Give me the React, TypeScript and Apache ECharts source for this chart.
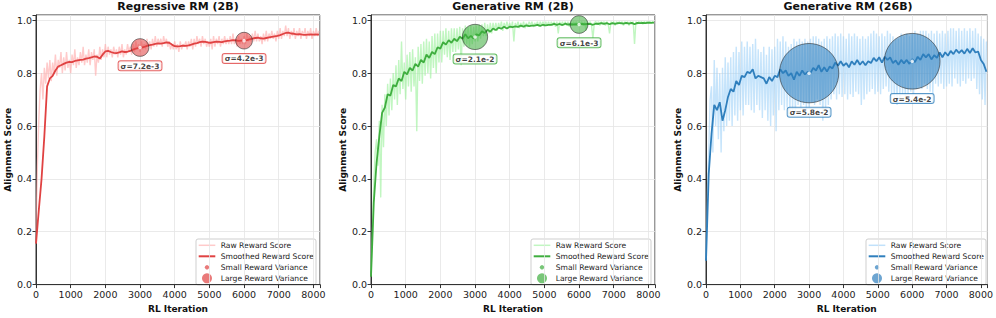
import React, { useEffect, useRef } from "react";
import * as echarts from "echarts";

// ---------------- data ----------------
const RAW_STEP = 40; // iterations between raw samples
const SMOOTH_STEP = 80; // iterations between smoothed samples
const TITLES = ["Regressive RM (2B)", "Generative RM (2B)", "Generative RM (26B)"];
const X_TICKS = [0, 1000, 2000, 3000, 4000, 5000, 6000, 7000, 8000];
const Y_TICKS = [0, 0.2, 0.4, 0.6, 0.8, 1.0];
const LEGEND_NAMES = ["Raw Reward Score", "Smoothed Reward Score", "Small Reward Variance", "Large Reward Variance"];

const REG_SMOOTH = [
  0.155, 0.28, 0.40, 0.56, 0.75, 0.78, 0.79, 0.81, 0.825, 0.83,
  0.835, 0.84, 0.843, 0.842, 0.846, 0.848, 0.85, 0.851, 0.855, 0.857,
  0.86, 0.863, 0.862, 0.855, 0.87, 0.882, 0.884, 0.88, 0.877, 0.876,
  0.879, 0.882, 0.88, 0.881, 0.884, 0.889, 0.893, 0.896, 0.897, 0.899,
  0.903, 0.906, 0.908, 0.911, 0.913, 0.912, 0.914, 0.916, 0.915, 0.908,
  0.902, 0.901, 0.902, 0.904, 0.903, 0.905, 0.908, 0.912, 0.914, 0.917,
  0.919, 0.918, 0.916, 0.915, 0.917, 0.919, 0.918, 0.917, 0.92, 0.922,
  0.923, 0.925, 0.924, 0.922, 0.923, 0.923, 0.925, 0.928, 0.931, 0.933,
  0.934, 0.932, 0.931, 0.933, 0.935, 0.937, 0.939, 0.941, 0.944, 0.948,
  0.952, 0.953, 0.95, 0.949, 0.947, 0.948, 0.946, 0.945, 0.946, 0.947,
  0.946, 0.947, 0.946,
];
const REG_RAW = [
  0.2, 0.45, 0.62, 0.74, 0.8, 0.7, 0.82, 0.76, 0.84, 0.78,
  0.85, 0.77, 0.84, 0.8, 0.87, 0.79, 0.85, 0.82, 0.88, 0.8,
  0.86, 0.81, 0.88, 0.82, 0.85, 0.8, 0.87, 0.83, 0.89, 0.82,
  0.86, 0.83, 0.88, 0.84, 0.9, 0.83, 0.87, 0.84, 0.89, 0.83,
  0.88, 0.85, 0.89, 0.79, 0.87, 0.84, 0.9, 0.85, 0.89, 0.86,
  0.91, 0.86, 0.9, 0.87, 0.89, 0.86, 0.9, 0.87, 0.89, 0.86,
  0.9, 0.87, 0.91, 0.86, 0.89, 0.87, 0.91, 0.88, 0.9, 0.87,
  0.91, 0.88, 0.92, 0.89, 0.91, 0.88, 0.92, 0.89, 0.91, 0.89,
  0.93, 0.9, 0.92, 0.89, 0.93, 0.9, 0.94, 0.9, 0.93, 0.91,
  0.93, 0.9, 0.94, 0.91, 0.93, 0.9, 0.92, 0.89, 0.91, 0.89,
  0.92, 0.89, 0.91, 0.88, 0.92, 0.89, 0.91, 0.9, 0.92, 0.89,
  0.92, 0.9, 0.93, 0.89, 0.93, 0.9, 0.94, 0.91, 0.93, 0.9,
  0.94, 0.91, 0.93, 0.9, 0.92, 0.9, 0.93, 0.89, 0.94, 0.9,
  0.93, 0.91, 0.94, 0.9, 0.93, 0.91, 0.94, 0.91, 0.93, 0.91,
  0.94, 0.91, 0.95, 0.91, 0.93, 0.9, 0.94, 0.91, 0.93, 0.91,
  0.94, 0.91, 0.95, 0.92, 0.94, 0.92, 0.95, 0.92, 0.96, 0.92,
  0.95, 0.92, 0.94, 0.91, 0.95, 0.92, 0.96, 0.92, 0.95, 0.93,
  0.96, 0.93, 0.95, 0.92, 0.96, 0.93, 0.97, 0.93, 0.96, 0.94,
  0.98, 0.94, 0.97, 0.93, 0.96, 0.94, 0.97, 0.93, 0.96, 0.94,
  0.97, 0.93, 0.96, 0.94, 0.97, 0.93, 0.96, 0.94, 0.97, 0.93,
  0.96, 0.94, 0.97, 0.94, 0.96,
];

const GEN2_SMOOTH = [
  0.03, 0.31, 0.46, 0.56, 0.65, 0.67, 0.72, 0.715, 0.755, 0.75,
  0.78, 0.77, 0.805, 0.795, 0.82, 0.81, 0.835, 0.825, 0.85, 0.84,
  0.87, 0.858, 0.88, 0.872, 0.898, 0.893, 0.917, 0.908, 0.925, 0.915,
  0.93, 0.921, 0.938, 0.93, 0.947, 0.932, 0.941, 0.931, 0.947, 0.943,
  0.958, 0.952, 0.964, 0.957, 0.969, 0.963, 0.972, 0.968, 0.976, 0.969,
  0.976, 0.974, 0.977, 0.975, 0.98, 0.976, 0.981, 0.978, 0.98, 0.98,
  0.983, 0.979, 0.983, 0.981, 0.983, 0.983, 0.986, 0.983, 0.986, 0.982,
  0.987, 0.984, 0.985, 0.984, 0.985, 0.984, 0.986, 0.985, 0.986, 0.986,
  0.983, 0.987, 0.986, 0.989, 0.986, 0.989, 0.985, 0.989, 0.986, 0.989,
  0.989, 0.987, 0.99, 0.987, 0.99, 0.985, 0.99, 0.989, 0.99, 0.989,
  0.991, 0.99, 0.991,
];
const GEN2_RAW = [
  0.05, 0.2, 0.38, 0.5, 0.55, 0.45, 0.62, 0.33, 0.68, 0.52,
  0.72, 0.6, 0.76, 0.64, 0.78, 0.66, 0.8, 0.7, 0.83, 0.68,
  0.85, 0.72, 0.92, 0.74, 0.84, 0.7, 0.87, 0.75, 0.88, 0.73,
  0.89, 0.75, 0.86, 0.58, 0.9, 0.77, 0.91, 0.76, 0.92, 0.79,
  0.93, 0.8, 0.92, 0.78, 0.94, 0.82, 0.95, 0.8, 0.95, 0.84,
  0.96, 0.84, 0.96, 0.87, 0.97, 0.86, 0.96, 0.85, 0.97, 0.88,
  0.97, 0.88, 0.97, 0.89, 0.975, 0.83, 0.97, 0.9, 0.98, 0.91,
  0.975, 0.9, 0.98, 0.91, 0.975, 0.92, 0.98, 0.92, 0.985, 0.93,
  0.985, 0.94, 0.99, 0.94, 0.985, 0.95, 0.99, 0.95, 0.99, 0.96,
  0.99, 0.96, 0.99, 0.97, 0.995, 0.96, 0.99, 0.97, 0.995, 0.97,
  0.99, 0.97, 0.995, 0.92, 0.99, 0.975, 0.995, 0.97, 0.99, 0.975,
  0.995, 0.97, 0.99, 0.975, 0.995, 0.98, 0.995, 0.975, 0.99, 0.98,
  0.995, 0.975, 0.995, 0.98, 0.995, 0.975, 0.995, 0.98, 0.995, 0.98,
  0.995, 0.98, 0.995, 0.975, 0.995, 0.95, 0.995, 0.98, 0.995, 0.98,
  0.995, 0.98, 0.995, 0.975, 0.995, 0.98, 0.995, 0.985, 0.995, 0.98,
  0.995, 0.985, 0.995, 0.98, 0.995, 0.96, 0.995, 0.985, 0.995, 0.98,
  0.93, 0.99, 0.995, 0.985, 0.995, 0.98, 0.995, 0.985, 0.995, 0.98,
  0.995, 0.985, 0.95, 0.995, 0.985, 0.995, 0.98, 0.995, 0.985, 0.995,
  0.985, 0.995, 0.98, 0.995, 0.985, 0.995, 0.98, 0.995, 0.985, 0.995,
  0.91, 0.995, 0.985, 0.995, 0.99, 0.995, 0.985, 0.995, 0.99, 0.995,
  0.99, 0.995, 0.99, 0.995, 0.99,
];

const GEN26_SMOOTH = [
  0.09, 0.42, 0.57, 0.68, 0.66, 0.69, 0.62, 0.66, 0.71, 0.74,
  0.73, 0.77, 0.755, 0.79, 0.785, 0.805, 0.80, 0.815, 0.78, 0.79,
  0.785, 0.78, 0.76, 0.785, 0.77, 0.79, 0.785, 0.815, 0.80, 0.81,
  0.79, 0.80, 0.775, 0.805, 0.79, 0.81, 0.795, 0.805, 0.80, 0.82,
  0.81, 0.83, 0.805, 0.822, 0.806, 0.825, 0.818, 0.84, 0.828, 0.845,
  0.828, 0.838, 0.822, 0.845, 0.832, 0.85, 0.832, 0.845, 0.83, 0.845,
  0.838, 0.858, 0.845, 0.86, 0.84, 0.862, 0.85, 0.86, 0.838, 0.848,
  0.832, 0.85, 0.837, 0.85, 0.835, 0.853, 0.842, 0.862, 0.85, 0.872,
  0.86, 0.872, 0.852, 0.868, 0.858, 0.878, 0.86, 0.879, 0.866, 0.884,
  0.872, 0.889, 0.876, 0.887, 0.874, 0.892, 0.876, 0.894, 0.878, 0.882,
  0.85, 0.835, 0.805,
];
const GEN26_RAW = [
  0.1, 0.35, 0.5, 0.7, 0.75, 0.5, 0.85, 0.6, 0.82, 0.55,
  0.8, 0.5, 0.82, 0.58, 0.86, 0.6, 0.84, 0.62, 0.86, 0.6,
  0.88, 0.64, 0.9, 0.62, 0.88, 0.66, 0.92, 0.64, 0.9, 0.68,
  0.92, 0.68, 0.9, 0.66, 0.91, 0.65, 0.93, 0.68, 0.89, 0.66,
  0.88, 0.63, 0.9, 0.66, 0.87, 0.62, 0.9, 0.6, 0.89, 0.64,
  0.9, 0.58, 0.93, 0.66, 0.92, 0.68, 0.94, 0.66, 0.92, 0.67,
  0.9, 0.64, 0.91, 0.66, 0.93, 0.65, 0.92, 0.68, 0.93, 0.67,
  0.92, 0.68, 0.93, 0.66, 0.92, 0.67, 0.93, 0.69, 0.94, 0.68,
  0.94, 0.7, 0.93, 0.68, 0.92, 0.62, 0.93, 0.66, 0.94, 0.68,
  0.93, 0.7, 0.94, 0.72, 0.95, 0.7, 0.94, 0.72, 0.95, 0.71,
  0.94, 0.72, 0.93, 0.7, 0.95, 0.72, 0.94, 0.71, 0.95, 0.73,
  0.94, 0.72, 0.93, 0.68, 0.94, 0.7, 0.93, 0.72, 0.94, 0.73,
  0.95, 0.74, 0.96, 0.72, 0.95, 0.73, 0.94, 0.72, 0.95, 0.74,
  0.94, 0.75, 0.96, 0.73, 0.95, 0.72, 0.94, 0.7, 0.93, 0.68,
  0.93, 0.7, 0.95, 0.72, 0.94, 0.7, 0.95, 0.72, 0.94, 0.73,
  0.95, 0.72, 0.96, 0.74, 0.95, 0.75, 0.96, 0.74, 0.96, 0.76,
  0.96, 0.74, 0.95, 0.73, 0.96, 0.72, 0.95, 0.76, 0.96, 0.75,
  0.95, 0.76, 0.96, 0.74, 0.95, 0.75, 0.96, 0.76, 0.97, 0.75,
  0.97, 0.78, 0.96, 0.76, 0.97, 0.75, 0.96, 0.77, 0.97, 0.76,
  0.96, 0.78, 0.97, 0.77, 0.96, 0.78, 0.97, 0.74, 0.95, 0.72,
  0.94, 0.7, 0.93, 0.68, 0.92,
];

const MARK_X = [3000, 6000];
const REG_MARK_Y = [0.897, 0.923];
const GEN2_MARK_Y = [0.937, 0.984];
const GEN26_MARK_Y = [0.80, 0.845];
const REG_SIGMA = ["7.2e-3", "4.2e-3"];
const GEN2_SIGMA = ["2.1e-2", "6.1e-3"];
const GEN26_SIGMA = ["5.8e-2", "5.4e-2"];

// ---------------- styles ----------------
const FONT = "DejaVu Sans";
const GRID_LEFT = [36, 371, 706];
const GRID_TOP = 15;
const GRID_W = 284;
const GRID_H = 274;
const X_MAX = 8190;
const Y_MAX = 1.02;

const PANELS = [
  {
    raw: REG_RAW, smooth: REG_SMOOTH, markY: REG_MARK_Y, sigma: REG_SIGMA,
    main: "#e04242", rawColor: "#ffa6a6", rawOpacity: 0.6, fill: "rgba(224,66,66,0.7)", sizes: [17.7, 16.7],
  },
  {
    raw: GEN2_RAW, smooth: GEN2_SMOOTH, markY: GEN2_MARK_Y, sigma: GEN2_SIGMA,
    main: "#3fae3f", rawColor: "#98f098", rawOpacity: 0.6, fill: "rgba(63,174,63,0.7)", sizes: [25.3, 17.7],
  },
  {
    raw: GEN26_RAW, smooth: GEN26_SMOOTH, markY: GEN26_MARK_Y, sigma: GEN26_SIGMA,
    main: "#2f7fbd", rawColor: "#98cdf8", rawOpacity: 0.55, fill: "rgba(47,127,189,0.7)", sizes: [59.3, 55.7],
  },
];

const toPts = (arr: number[], step: number) => arr.map((v, i) => [i * step, v]);

function buildOption() {
  const grids: any[] = [];
  const xAxes: any[] = [];
  const yAxes: any[] = [];
  const series: any[] = [];
  const titles: any[] = [];
  const graphics: any[] = [];

  PANELS.forEach((p, i) => {
    const left = GRID_LEFT[i];
    grids.push({
      left, top: GRID_TOP, width: GRID_W, height: GRID_H,
      show: true, borderColor: "#333", borderWidth: 1, backgroundColor: "transparent",
    });
    titles.push({
      text: TITLES[i], left: left + GRID_W / 2, top: 1, padding: 0, textAlign: "center",
      textStyle: { fontFamily: FONT, fontSize: 11, fontWeight: "bold", color: "#111" },
    });
    xAxes.push({
      type: "value", gridIndex: i, min: 0, max: X_MAX, interval: 1000,
      name: "RL Iteration", nameLocation: "middle", nameGap: 17,
      nameTextStyle: { fontFamily: FONT, fontSize: 9, fontWeight: "bold", color: "#111" },
      axisLine: { show: true, lineStyle: { color: "#333", width: 1 } },
      axisTick: { show: true, length: 3.5, lineStyle: { color: "#333" } },
      axisLabel: {
        fontFamily: FONT, fontSize: 9.5, color: "#222", margin: 4.5,
        formatter: (v: number) => (X_TICKS.includes(v) ? String(v) : ""),
      },
      splitLine: { show: true, lineStyle: { color: "#e4e4e4", width: 0.8 } },
    });
    yAxes.push({
      type: "value", gridIndex: i, min: 0, max: Y_MAX, interval: 0.2,
      name: "Alignment Score", nameLocation: "middle", nameGap: 23,
      nameTextStyle: { fontFamily: FONT, fontSize: 9, fontWeight: "bold", color: "#111" },
      axisLine: { show: true, lineStyle: { color: "#333", width: 1 } },
      axisTick: { show: true, length: 3.5, lineStyle: { color: "#333" } },
      axisLabel: {
        fontFamily: FONT, fontSize: 9.5, color: "#222", margin: 4,
        formatter: (v: number) => (Y_TICKS.some((t) => Math.abs(t - v) < 1e-6) ? v.toFixed(1) : ""),
      },
      splitLine: { show: true, lineStyle: { color: "#e4e4e4", width: 0.8 } },
    });

    series.push({
      type: "line", name: LEGEND_NAMES[0], xAxisIndex: i, yAxisIndex: i,
      data: toPts(p.raw, RAW_STEP), symbol: "none", silent: true, z: 1,
      lineStyle: { color: p.rawColor, width: 1.4, opacity: p.rawOpacity },
    });
    series.push({
      type: "line", name: LEGEND_NAMES[1], xAxisIndex: i, yAxisIndex: i,
      data: toPts(p.smooth, SMOOTH_STEP), symbol: "none", silent: true, z: 2,
      lineStyle: { color: p.main, width: 1.8 },
    });
    series.push({
      type: "scatter", xAxisIndex: i, yAxisIndex: i, z: 3, silent: true,
      data: MARK_X.map((x, k) => ({ value: [x, p.markY[k]], symbolSize: p.sizes[k] })),
      itemStyle: { color: p.fill, borderColor: "rgba(30,30,30,0.85)", borderWidth: 0.8 },
      label: {
        show: true, position: "bottom", distance: 4.5,
        formatter: (q: any) => "σ=" + p.sigma[q.dataIndex],
        fontFamily: FONT, fontSize: 7.5, fontWeight: "bold", color: "#111",
        backgroundColor: "#fff", borderColor: p.main, borderWidth: 1, borderRadius: 2,
        padding: [1, 2, 0, 2], lineHeight: 8,
      },
    });
    series.push({
      type: "scatter", xAxisIndex: i, yAxisIndex: i, z: 4, silent: true,
      data: MARK_X.map((x, k) => [x, p.markY[k]]), symbolSize: 3.5,
      itemStyle: { color: "#fff" },
    });

    // legend box
    const bx = left + GRID_W - 4 - 120;
    const by = GRID_TOP + GRID_H - 4 - 46;
    const rows = [6.3, 17.3, 28.3, 39.3].map((d) => by + d);
    const children: any[] = [
      { type: "rect", shape: { x: bx, y: by, width: 120, height: 46, r: 2 },
        style: { fill: "rgba(255,255,255,0.85)", stroke: "#cfcfcf", lineWidth: 1 } },
      { type: "line", shape: { x1: bx + 2.7, y1: rows[0], x2: bx + 19.3, y2: rows[0] },
        style: { stroke: p.rawColor, lineWidth: 1.5, opacity: 0.6 } },
      { type: "line", shape: { x1: bx + 2.7, y1: rows[1], x2: bx + 19.3, y2: rows[1] },
        style: { stroke: p.main, lineWidth: 2 } },
      { type: "circle", shape: { cx: bx + 11, cy: rows[2], r: 2.2 }, style: { fill: p.fill } },
      { type: "circle", shape: { cx: bx + 11, cy: rows[3], r: 5 }, style: { fill: p.fill } },
    ];
    LEGEND_NAMES.forEach((n, k) => {
      children.push({
        type: "text", x: bx + 24.7, y: rows[k],
        style: { text: n, fontFamily: FONT, fontSize: 7.6, fill: "#222", verticalAlign: "middle", align: "left" },
      });
    });
    graphics.push({ type: "group", silent: true, z: 100, children });
  });

  return {
    animation: false,
    backgroundColor: "#fff",
    textStyle: { fontFamily: FONT },
    title: titles,
    grid: grids,
    xAxis: xAxes,
    yAxis: yAxes,
    series,
    graphic: graphics,
  };
}

export default function App() {
  const ref = useRef<HTMLDivElement>(null);
  useEffect(() => {
    if (!ref.current) return;
    const chart = echarts.init(ref.current, undefined, { renderer: "svg" });
    chart.setOption(buildOption() as any);
    return () => chart.dispose();
  }, []);
  return (
    <div
      ref={ref}
      style={{ position: "fixed", left: 0, top: 0, width: 996, height: 318, background: "#fff" }}
    />
  );
}
